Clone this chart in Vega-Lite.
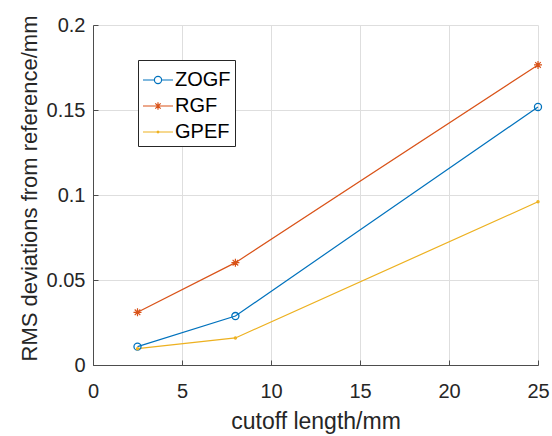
{
  "$schema": "https://vega.github.io/schema/vega-lite/v6.json",
  "width": 445,
  "height": 340,
  "autosize": "none",
  "padding": {"left": 93, "top": 25, "right": 14, "bottom": 71},
  "background": "white",
  "config": {
    "view": {"stroke": null},
    "font": "Liberation Sans",
    "axis": {
      "domainColor": "#4d4d4d",
      "tickColor": "#4d4d4d",
      "gridColor": "#dedede",
      "gridWidth": 1,
      "labelColor": "#262626",
      "labelFont": "Liberation Sans",
      "labelFontSize": 20,
      "titleColor": "#262626",
      "titleFont": "Liberation Sans",
      "titleFontSize": 22,
      "titleFontWeight": "normal",
      "tickSize": -5
    }
  },
  "data": {
    "values": [
      {"cutoff": 2.5, "rms": 0.0108, "series": "ZOGF"},
      {"cutoff": 8, "rms": 0.0288, "series": "ZOGF"},
      {"cutoff": 25, "rms": 0.1518, "series": "ZOGF"},
      {"cutoff": 2.5, "rms": 0.031, "series": "RGF"},
      {"cutoff": 8, "rms": 0.0602, "series": "RGF"},
      {"cutoff": 25, "rms": 0.1765, "series": "RGF"},
      {"cutoff": 2.5, "rms": 0.0096, "series": "GPEF"},
      {"cutoff": 8, "rms": 0.0159, "series": "GPEF"},
      {"cutoff": 25, "rms": 0.096, "series": "GPEF"}
    ]
  },
  "encoding": {
    "x": {
      "field": "cutoff",
      "type": "quantitative",
      "scale": {"domain": [0, 25], "nice": false, "zero": false},
      "axis": {
        "values": [0, 5, 10, 15, 20, 25],
        "labelPadding": 21,
        "labelFlush": false,
        "title": "cutoff length/mm",
        "titleFontSize": 23,
        "titleX": 222.5,
        "titleY": 63,
        "titleBaseline": "alphabetic",
        "titleAlign": "center"
      }
    },
    "y": {
      "field": "rms",
      "type": "quantitative",
      "scale": {"domain": [0, 0.2], "nice": false},
      "axis": {
        "values": [0, 0.05, 0.1, 0.15, 0.2],
        "format": "~g",
        "labelPadding": 13,
        "labelFlush": false,
        "title": "RMS deviations from reference/mm",
        "titleX": -57,
        "titleY": 163,
        "titleAngle": -90,
        "titleBaseline": "alphabetic",
        "titleAlign": "center"
      }
    },
    "color": {
      "field": "series",
      "type": "nominal",
      "scale": {"domain": ["ZOGF", "RGF", "GPEF"], "range": ["#0072BD", "#D95319", "#EDB120"]}
    }
  },
  "layer": [
    {
      "mark": {"type": "line", "strokeWidth": 1.2},
      "encoding": {
        "color": {
          "field": "series",
          "type": "nominal",
          "scale": {"domain": ["ZOGF", "RGF", "GPEF"], "range": ["#0072BD", "#D95319", "#EDB120"]},
          "legend": {
            "orient": "none",
            "legendX": 45,
            "legendY": 35,
            "title": null,
            "fillColor": "white",
            "strokeColor": "#262626",
            "padding": 4,
            "cornerRadius": 0,
            "labelFont": "Liberation Sans",
            "labelFontSize": 20,
            "labelColor": "#000000",
            "labelOffset": 1,
            "rowPadding": -3,
            "symbolSize": 900,
            "symbolStrokeWidth": 1.2,
            "symbolFillColor": "white",
            "encode": {
              "symbols": {
                "update": {
                  "shape": {"signal": "datum.value === 'ZOGF' ? 'M-1,0L-0.24,0M0.24,0L1,0M0.24,0A0.24,0.24 0 1,1 -0.24,0A0.24,0.24 0 1,1 0.24,0' : datum.value === 'RGF' ? 'M-1,0L1,0M0,-0.25L0,0.25M-0.18,-0.18L0.18,0.18M-0.18,0.18L0.18,-0.18' : 'M-1,0L1,0M0.06,0A0.06,0.06 0 1,1 -0.06,0A0.06,0.06 0 1,1 0.06,0'"},
                  "fill": {"value": "white"},
                  "fillOpacity": {"value": 1},
                  "strokeWidth": {"value": 1.2}
                }
              }
            }
          }
        }
      }
    },
    {
      "transform": [{"filter": "datum.series === 'ZOGF'"}],
      "mark": {"type": "point", "shape": "circle", "filled": false, "size": 50, "strokeWidth": 1.3, "opacity": 1},
      "encoding": {"color": {"field": "series", "type": "nominal", "legend": null}}
    },
    {
      "transform": [{"filter": "datum.series === 'RGF'"}],
      "mark": {"type": "point", "shape": "M-1,0L1,0M0,-1L0,1M-0.7,-0.7L0.7,0.7M-0.7,0.7L0.7,-0.7", "filled": false, "size": 64, "strokeWidth": 1.2, "opacity": 1},
      "encoding": {"color": {"field": "series", "type": "nominal", "legend": null}}
    },
    {
      "transform": [{"filter": "datum.series === 'GPEF'"}],
      "mark": {"type": "point", "shape": "circle", "filled": false, "size": 2, "strokeWidth": 2, "opacity": 1},
      "encoding": {"color": {"field": "series", "type": "nominal", "legend": null}}
    }
  ]
}
